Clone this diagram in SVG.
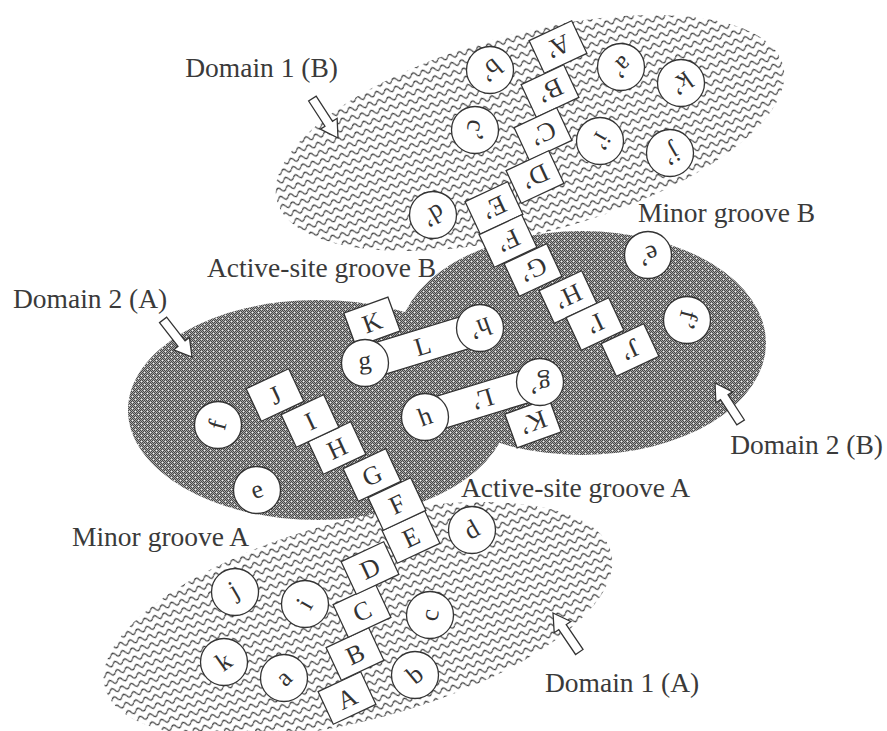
<svg xmlns="http://www.w3.org/2000/svg" width="887" height="731" viewBox="0 0 887 731">
<style>
.box{fill:#fff;stroke:#333;stroke-width:1.3}
.res{fill:#fff;stroke:#333;stroke-width:1.3}
.t{font-family:"Liberation Serif","Times New Roman",serif;font-size:26px;fill:#333;text-anchor:middle}
.lbl{font-family:"Liberation Serif","Times New Roman",serif;font-size:27.5px;fill:#3a3a3a}
.arr{fill:#fff;stroke:#333;stroke-width:1.3;stroke-linejoin:miter}
</style>
<defs>
<pattern id="wave" patternUnits="userSpaceOnUse" width="10" height="8.5">
<rect width="10" height="8.5" fill="#fff"/>
<path d="M0 4.25 Q2.5 0 5 4.25 T10 4.25" fill="none" stroke="#3e3e3e" stroke-width="1.2"/>
</pattern>
<pattern id="dith" patternUnits="userSpaceOnUse" width="2" height="2">
<rect width="2" height="2" fill="#a8a8a8"/>
<rect width="1" height="1" fill="#474747"/>
<rect x="1" y="1" width="1" height="1" fill="#474747"/>
</pattern>
<pattern id="dots" patternUnits="userSpaceOnUse" width="6" height="6">
<rect x="0" y="0" width="1" height="1" fill="#f0f0f0"/>
<rect x="3" y="3" width="1" height="1" fill="#f0f0f0"/>
</pattern>
<path id="arrowShape" d="M0 0 L-17 -10 L-17 -4.5 L-47 -4.5 L-47 4.5 L-17 4.5 L-17 10 Z"/>
<rect id="bx" x="-23.5" y="-18" width="47" height="36"/>
</defs>
<rect width="887" height="731" fill="#fff"/>

<g id="domain2-A">
<ellipse cx="318" cy="410" rx="190" ry="110" fill="url(#dith)"/>
<ellipse cx="318" cy="410" rx="190" ry="110" fill="url(#dots)"/>
</g>
<g id="domain2-B">
<ellipse cx="582" cy="343" rx="184" ry="112" fill="url(#dith)"/>
<ellipse cx="582" cy="343" rx="184" ry="112" fill="url(#dots)"/>
</g>
<g id="domain1-A">
<ellipse cx="358" cy="620" rx="262" ry="100" transform="rotate(-15 358 620)" fill="url(#wave)"/>
</g>
<g id="domain1-B">
<ellipse cx="530" cy="133" rx="262" ry="100" transform="rotate(-15 530 133)" fill="url(#wave)"/>
</g>

<g id="connectors">
<use href="#arrowShape" class="arr" transform="translate(338 138) rotate(57)"/>
<use href="#arrowShape" class="arr" transform="translate(192 357) rotate(52)"/>
<use href="#arrowShape" class="arr" transform="translate(553 613) rotate(-124)"/>
<use href="#arrowShape" class="arr" transform="translate(715 383) rotate(-123)"/>
</g>

<g id="box-K" transform="translate(372 322) rotate(-20)"><use href="#bx" class="box"/><text class="t" y="9">K</text></g>
<g id="box-K2" transform="translate(533 423) rotate(160)"><use href="#bx" class="box"/><text class="t" y="9">K’</text></g>

<g id="bar-L" transform="translate(422.5 345.5) rotate(-17)"><rect class="box" x="-58" y="-16.5" width="116" height="33"/><text class="t" y="9">L</text></g>
<g id="bar-L2" transform="translate(482.5 399.5) rotate(163)"><rect class="box" x="-58" y="-16.5" width="116" height="33"/><text class="t" y="9">L’</text></g>

<g id="box-A" transform="translate(347 698) rotate(-25)"><use href="#bx" class="box"/><text class="t" y="9">A</text></g>
<g id="box-B" transform="translate(355 654) rotate(-25)"><use href="#bx" class="box"/><text class="t" y="9">B</text></g>
<g id="box-C" transform="translate(362 611) rotate(-25)"><use href="#bx" class="box"/><text class="t" y="9">C</text></g>
<g id="box-D" transform="translate(370 568) rotate(-25)"><use href="#bx" class="box"/><text class="t" y="9">D</text></g>
<g id="box-E" transform="translate(411 537) rotate(-25)"><use href="#bx" class="box"/><text class="t" y="9">E</text></g>
<g id="box-F" transform="translate(397 504) rotate(-25)"><use href="#bx" class="box"/><text class="t" y="9">F</text></g>
<g id="box-G" transform="translate(372 475) rotate(-25)"><use href="#bx" class="box"/><text class="t" y="9">G</text></g>
<g id="box-H" transform="translate(337 448) rotate(-25)"><use href="#bx" class="box"/><text class="t" y="9">H</text></g>
<g id="box-I" transform="translate(310 421) rotate(-25)"><use href="#bx" class="box"/><text class="t" y="9">I</text></g>
<g id="box-J" transform="translate(275 395) rotate(-25)"><use href="#bx" class="box"/><text class="t" y="9">J</text></g>

<g id="box-A2" transform="translate(558 47) rotate(155)"><use href="#bx" class="box"/><text class="t" y="9">A’</text></g>
<g id="box-B2" transform="translate(550 91) rotate(155)"><use href="#bx" class="box"/><text class="t" y="9">B’</text></g>
<g id="box-C2" transform="translate(543 134) rotate(155)"><use href="#bx" class="box"/><text class="t" y="9">C’</text></g>
<g id="box-D2" transform="translate(535 177) rotate(155)"><use href="#bx" class="box"/><text class="t" y="9">D’</text></g>
<g id="box-E2" transform="translate(494 208) rotate(155)"><use href="#bx" class="box"/><text class="t" y="9">E’</text></g>
<g id="box-F2" transform="translate(508 241) rotate(155)"><use href="#bx" class="box"/><text class="t" y="9">F’</text></g>
<g id="box-G2" transform="translate(533 270) rotate(155)"><use href="#bx" class="box"/><text class="t" y="9">G’</text></g>
<g id="box-H2" transform="translate(568 297) rotate(155)"><use href="#bx" class="box"/><text class="t" y="9">H’</text></g>
<g id="box-I2" transform="translate(595 324) rotate(155)"><use href="#bx" class="box"/><text class="t" y="9">I’</text></g>
<g id="box-J2" transform="translate(630 350) rotate(155)"><use href="#bx" class="box"/><text class="t" y="9">J’</text></g>

<g id="res-a" transform="translate(284 678)"><circle class="res" r="23.5"/><text class="t" transform="rotate(-45)" y="8">a</text></g>
<g id="res-b" transform="translate(415 675)"><circle class="res" r="23.5"/><text class="t" transform="rotate(-40)" y="8">b</text></g>
<g id="res-c" transform="translate(430 615)"><circle class="res" r="23.5"/><text class="t" transform="rotate(-80)" y="8">c</text></g>
<g id="res-d" transform="translate(472 530)"><circle class="res" r="23.5"/><text class="t" transform="rotate(-30)" y="8">d</text></g>
<g id="res-e" transform="translate(257 490)"><circle class="res" r="23.5"/><text class="t" transform="rotate(-20)" y="8">e</text></g>
<g id="res-f" transform="translate(218 425)"><circle class="res" r="23.5"/><text class="t" transform="rotate(-75)" y="8">f</text></g>
<g id="res-g" transform="translate(365 363)"><circle class="res" r="23.5"/><text class="t" transform="rotate(-5)" y="6">g</text></g>
<g id="res-h" transform="translate(425 417)"><circle class="res" r="23.5"/><text class="t" transform="rotate(-20)" y="8">h</text></g>
<g id="res-i" transform="translate(305 604)"><circle class="res" r="23.5"/><text class="t" transform="rotate(-60)" y="8">i</text></g>
<g id="res-j" transform="translate(235 592)"><circle class="res" r="23.5"/><text class="t" transform="rotate(-30)" y="6">j</text></g>
<g id="res-k" transform="translate(224 662)"><circle class="res" r="23.5"/><text class="t" transform="rotate(-35)" y="8">k</text></g>

<g id="res-a2" transform="translate(621 67)"><circle class="res" r="23.5"/><text class="t" transform="rotate(135)" y="8">a’</text></g>
<g id="res-b2" transform="translate(490 70)"><circle class="res" r="23.5"/><text class="t" transform="rotate(140)" y="8">b’</text></g>
<g id="res-c2" transform="translate(475 130)"><circle class="res" r="23.5"/><text class="t" transform="rotate(100)" y="8">c’</text></g>
<g id="res-d2" transform="translate(433 215)"><circle class="res" r="23.5"/><text class="t" transform="rotate(150)" y="8">d’</text></g>
<g id="res-e2" transform="translate(648 255)"><circle class="res" r="23.5"/><text class="t" transform="rotate(160)" y="8">e’</text></g>
<g id="res-f2" transform="translate(687 320)"><circle class="res" r="23.5"/><text class="t" transform="rotate(105)" y="8">f’</text></g>
<g id="res-g2" transform="translate(540 382)"><circle class="res" r="23.5"/><text class="t" transform="rotate(175)" y="6">g’</text></g>
<g id="res-h2" transform="translate(480 328)"><circle class="res" r="23.5"/><text class="t" transform="rotate(160)" y="8">h’</text></g>
<g id="res-i2" transform="translate(600 141)"><circle class="res" r="23.5"/><text class="t" transform="rotate(120)" y="8">i’</text></g>
<g id="res-j2" transform="translate(670 153)"><circle class="res" r="23.5"/><text class="t" transform="rotate(150)" y="6">j’</text></g>
<g id="res-k2" transform="translate(681 83)"><circle class="res" r="23.5"/><text class="t" transform="rotate(145)" y="8">k’</text></g>

<g id="labels">
<text class="lbl" x="338" y="77" text-anchor="end">Domain 1 (B)</text>
<text class="lbl" x="638" y="222">Minor groove B</text>
<text class="lbl" x="207" y="277">Active-site groove B</text>
<text class="lbl" x="13" y="308">Domain 2 (A)</text>
<text class="lbl" x="883" y="454" text-anchor="end">Domain 2 (B)</text>
<text class="lbl" x="461" y="497">Active-site groove A</text>
<text class="lbl" x="72" y="546">Minor groove A</text>
<text class="lbl" x="545" y="692">Domain 1 (A)</text>
</g>
</svg>
